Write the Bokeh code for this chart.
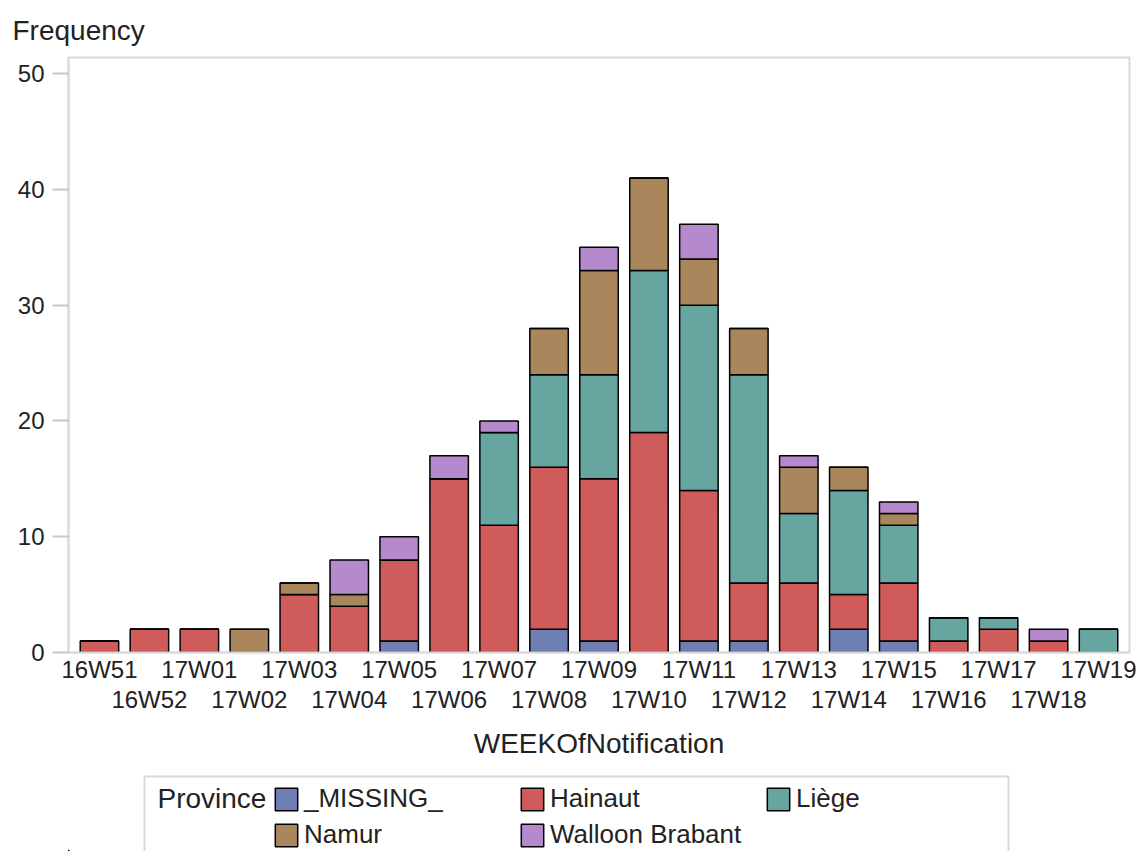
from bokeh.plotting import figure
from bokeh.layouts import column
from bokeh.models import (ColumnDataSource, Range1d, LinearAxis,
                          Legend, LegendItem, FixedTicker)
from bokeh.core.properties import value
from bokeh.embed import file_html
from bokeh.resources import INLINE

weeks = ["16W51", "16W52", "17W01", "17W02", "17W03", "17W04", "17W05", "17W06",
         "17W07", "17W08", "17W09", "17W10", "17W11", "17W12", "17W13", "17W14",
         "17W15", "17W16", "17W17", "17W18", "17W19"]
provinces = ["_MISSING_", "Hainaut", "Liège", "Namur", "Walloon Brabant"]
missing = [0, 0, 0, 0, 0, 0, 1, 0, 0, 2, 1, 0, 1, 1, 0, 2, 1, 0, 0, 0, 0]
hainaut = [1, 2, 2, 0, 5, 4, 7, 15, 11, 14, 14, 19, 13, 5, 6, 3, 5, 1, 2, 1, 0]
liege = [0, 0, 0, 0, 0, 0, 0, 0, 8, 8, 9, 14, 16, 18, 6, 9, 5, 2, 1, 0, 2]
namur = [0, 0, 0, 2, 1, 1, 0, 0, 0, 4, 9, 8, 4, 4, 4, 2, 1, 0, 0, 0, 0]
walloon_brabant = [0, 0, 0, 0, 0, 3, 2, 2, 1, 0, 2, 0, 3, 0, 1, 0, 1, 0, 0, 1, 0]
colors = ["#6F7EB3", "#D05B5B", "#66A5A0", "#A9865B", "#B689CD"]
y_ticks = [0, 10, 20, 30, 40, 50]

FONT = "Liberation Sans"
TEXT = "#222222"
GRAYLINE = "#d9d9d9"

idx = list(range(len(weeks)))
keys = ["missing", "hainaut", "liege", "namur", "wb"]
source = ColumnDataSource(dict(x=idx, week=weeks, missing=missing, hainaut=hainaut,
                               liege=liege, namur=namur, wb=walloon_brabant))

p = figure(x_range=Range1d(-0.62, len(weeks) - 0.38),
           y_range=Range1d(0, 51.4),
           frame_width=1061, frame_height=595,
           output_backend="svg", toolbar_location=None,
           min_border_left=68, min_border_right=7, min_border_top=57,
           min_border_bottom=0)
p.background_fill_color = "white"
p.border_fill_color = "white"
p.outline_line_color = GRAYLINE
p.outline_line_width = 2
p.xgrid.visible = False
p.ygrid.visible = False

p.vbar_stack(keys, x="x", width=0.77, fill_color=colors,
             line_color="black", line_width=1.5, source=source)

p.title.text = "Frequency"
p.title.text_font = FONT
p.title.text_font_size = "28px"
p.title.text_font_style = "normal"
p.title.text_color = TEXT
p.title.align = "left"
p.title.offset = -56
p.title.standoff = 24

ya = p.yaxis[0]
ya.ticker = FixedTicker(ticks=y_ticks)
ya.major_tick_out = 16
ya.major_tick_in = 0
ya.minor_tick_line_color = None
ya.major_tick_line_color = "#c8c8c8"
ya.major_tick_line_width = 2
ya.axis_line_color = GRAYLINE
ya.axis_line_width = 2
ya.major_label_standoff = 8
ya.major_label_text_font = FONT
ya.major_label_text_font_size = "24px"
ya.major_label_text_color = TEXT

even = [i for i in idx if i % 2 == 0]
odd = [i for i in idx if i % 2 == 1]

xa = p.xaxis[0]
xa.ticker = FixedTicker(ticks=even, minor_ticks=[])
xa.major_label_overrides = {i: weeks[i] for i in even}
xa.major_tick_line_color = None
xa.minor_tick_line_color = None
xa.major_tick_out = 0
xa.major_tick_in = 0
xa.major_label_standoff = 3
xa.axis_line_color = GRAYLINE
xa.axis_line_width = 2
xa.major_label_text_font = FONT
xa.major_label_text_font_size = "24px"
xa.major_label_text_color = TEXT

xa2 = LinearAxis(
    ticker=FixedTicker(ticks=odd, minor_ticks=[]),
    major_label_overrides={i: weeks[i] for i in odd},
    axis_line_color=None, major_tick_line_color=None, minor_tick_line_color=None,
    major_tick_out=0, major_tick_in=0, minor_tick_out=0, minor_tick_in=0,
    major_label_standoff=0,
    major_label_text_font=FONT, major_label_text_font_size="24px", major_label_text_color=TEXT,
    axis_label="WEEKOfNotification", axis_label_standoff=12,
    axis_label_text_font=FONT, axis_label_text_font_size="28px",
    axis_label_text_font_style="normal", axis_label_text_color=TEXT)
p.add_layout(xa2, "below")

# legend strip below the chart; its frame is aligned with the chart frame
# (x 68..1129), so data units equal page pixels horizontally
LW, LH = 1136, 90
lg = figure(width=LW, height=LH, x_axis_type=None, y_axis_type=None,
            x_range=Range1d(68, 1129), y_range=Range1d(0, LH),
            output_backend="svg", toolbar_location=None, min_border=0)
lg.outline_line_color = None
lg.background_fill_color = "white"
lg.border_fill_color = "white"
lg.grid.visible = False
# legend frame (bottom edge runs off the page, as in the reference)
lg.quad(left=[144], right=[1008], top=[LH - 15], bottom=[-20], fill_color="white",
        line_color=GRAYLINE, line_width=2)
lg.text(x=[157], y=[LH - 37], text=["Province"], text_font=value(FONT),
        text_font_size="28px", text_color=TEXT, text_baseline="middle",
        text_align="left")
dummies = [lg.vbar(x=[-100], top=[1], width=1, fill_color=c, line_color="black",
                   line_width=1.5) for c in colors]
items = [LegendItem(label=prov, renderers=[r]) for prov, r in zip(provinces, dummies)]
legend = Legend(items=items, orientation="horizontal", ncols=3, location=(204, 1))
legend.label_text_font = FONT
legend.label_text_font_size = "26px"
legend.label_text_color = TEXT
legend.glyph_width = 28
legend.glyph_height = 28
legend.label_height = 28
legend.label_standoff = 4
legend.label_width = 209
legend.spacing = 5
legend.padding = 8
legend.margin = 0
legend.border_line_color = None
legend.background_fill_alpha = 0
lg.add_layout(legend, "center")

layout = column(p, lg, spacing=0)
open("out.html", "w").write(file_html(layout, INLINE))
